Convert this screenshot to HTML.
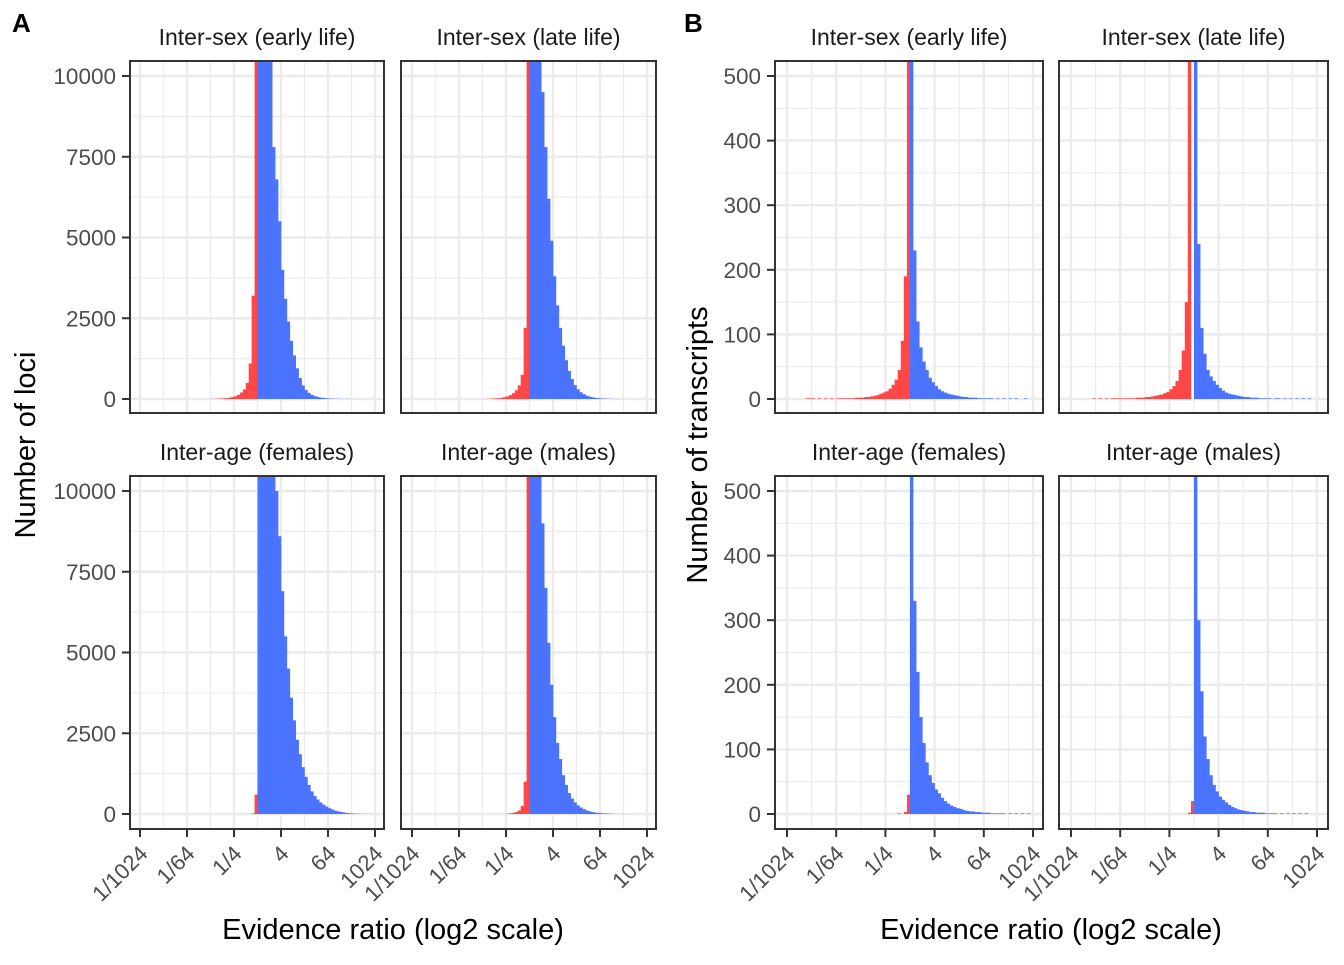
<!DOCTYPE html>
<html><head><meta charset="utf-8"><style>
body{margin:0;background:#fff;}
svg text{font-family:"Liberation Sans",sans-serif;}
</style></head><body>
<svg id="chart" width="1344" height="960" viewBox="0 0 1344 960" xmlns="http://www.w3.org/2000/svg">
<rect width="1344" height="960" fill="#fff"/>
<text x="12" y="32" font-size="26" font-weight="bold" fill="#000">A</text>
<text x="684" y="32" font-size="26" font-weight="bold" fill="#000">B</text>
<text transform="translate(35,445) rotate(-90)" text-anchor="middle" font-size="29" fill="#000">Number of loci</text>
<text transform="translate(707,445) rotate(-90)" text-anchor="middle" font-size="29" fill="#000">Number of transcripts</text>
<text x="393" y="939" text-anchor="middle" font-size="29" fill="#000">Evidence ratio (log2 scale)</text>
<text x="1051" y="939" text-anchor="middle" font-size="29" fill="#000">Evidence ratio (log2 scale)</text>
</svg>
<script>
// Histogram bins: width 0.25 (log2 units); arrays give counts starting at the given log2 start
const binWidth = 0.25;
const xTickLog2 = [-10, -6, -2, 2, 6, 10];
const xTickLabels = ["1/1024", "1/64", "1/4", "4", "64", "1024"];
const yTicksLoci = [0, 2500, 5000, 7500, 10000];
const yTicksTx = [0, 100, 200, 300, 400, 500];

const titles = ["Inter-sex (early life)", "Inter-sex (late life)", "Inter-age (females)", "Inter-age (males)"];

// Panel A (loci)
const a1RedStart = -4;
const a1Red = [4,6,10,14,20,28,40,60,85,130,200,300,500,1100,3200,12000];
const a1Blue = [12000,12000,12000,12000,12000,7800,6800,5500,4000,3100,2400,1800,1350,950,650,420,280,190,130,90,65,45,32,22,15,10,7,5,3,2,2,1,1,1];
const a2RedStart = -4;
const a2Red = [3,5,8,12,18,26,38,55,80,120,180,270,420,750,2200,12000];
const a2Blue = [12000,12000,12000,12000,9500,7800,6200,4900,3800,2900,2200,1650,1200,870,620,430,300,210,150,105,75,52,36,25,17,12,8,5,3,2,1];
const a3RedStart = -0.5;
const a3Red = [20,600];
const a3Blue = [12000,12000,12000,12000,12000,12000,10000,8600,6900,5500,4500,3600,2900,2300,1850,1450,1150,900,700,560,450,360,290,230,180,140,105,80,60,45,32,22,15,10,7,5,3,2,2,1];
const a4RedStart = -2;
const a4Red = [10,20,35,60,110,250,1000,12000];
const a4Blue = [12000,12000,12000,12000,9000,7000,5300,4000,3000,2200,1700,1200,900,650,480,360,270,200,150,110,80,60,45,33,24,17,12,8,5,3,2,1];

// Panel B (transcripts)
const b1RedStart = -8.5;
const b1Red = [1,1,1,0,1,0,1,0,1,0,1,1,1,1,1,1,2,2,2,3,3,4,5,6,8,10,12,16,22,30,45,90,190,600];
const b1Blue = [600,230,120,80,58,45,33,26,20,15,12,10,8,7,6,5,4,3,3,2,2,2,1,1,1,1,1,0,1,0,1,0,1,0,1,0,0,1];
const b2RedStart = -8.25;
const b2Red = [1,0,1,0,1,0,1,1,1,1,1,1,1,1,2,2,2,3,3,4,5,6,7,9,11,15,20,28,45,75,150,600];
const b2Blue = [600,240,110,70,45,35,28,22,17,13,10,8,7,6,5,4,3,3,2,2,2,1,1,1,1,0,1,1,0,1,0,1,0,1,0,1,0,1];
const b3RedStart = -1;
const b3Red = [1,0,3,30];
const b3Blue = [600,330,220,150,110,80,60,48,38,32,25,20,16,13,11,9,8,6,5,4,4,3,3,2,2,2,1,1,1,1,1,0,1,0,1,0,1,0,1];
const b4RedStart = -0.5;
const b4Red = [2,20];
const b4Blue = [600,300,190,120,85,60,45,35,27,22,18,14,11,9,7,6,5,4,3,3,2,2,2,1,1,1,1,0,1,0,1,0,1,0,1,0,1];

const NS = "http://www.w3.org/2000/svg";
const svg = document.getElementById("chart");
function el(tag, attrs, parent) {
  const e = document.createElementNS(NS, tag);
  for (const k in attrs) e.setAttribute(k, attrs[k]);
  (parent || svg).appendChild(e);
  return e;
}
let clipId = 0;
function panel(cfg) {
  const {left, top, w, h, zeroX, kx, zeroY, ky, yTicks, yGrid, yMinor, title, redStart, red, blue, showX, name} = cfg;
  const sx = v => zeroX + v * kx;
  const sy = v => zeroY - v * ky;
  const g = el("g", {});
  
  
  const xMinor = [-8, -4, 0, 4, 8];
  xMinor.forEach(v => el("line", {x1: sx(v), x2: sx(v), y1: top, y2: top + h, stroke: "#ebebeb", "stroke-width": 1.2}, g));
  yMinor.forEach(v => el("line", {x1: left, x2: left + w, y1: sy(v), y2: sy(v), stroke: "#ebebeb", "stroke-width": 1.2}, g));
  xTickLog2.forEach(v => el("line", {x1: sx(v), x2: sx(v), y1: top, y2: top + h, stroke: "#ebebeb", "stroke-width": 2.4}, g));
  yGrid.forEach(v => el("line", {x1: left, x2: left + w, y1: sy(v), y2: sy(v), stroke: "#ebebeb", "stroke-width": 2.4}, g));
  const id = "clip" + (clipId++);
  const cp = el("clipPath", {id: id}, g);
  el("rect", {x: left, y: top, width: w, height: h}, cp);
  const bars = el("g", {"clip-path": "url(#" + id + ")"}, g);
  red.forEach((c, i) => {
    if (c <= 0) return;
    const x0 = sx(redStart + i * binWidth), x1 = sx(redStart + (i + 1) * binWidth);
    const r = el("rect", {x: x0, y: sy(c), width: x1 - x0 + 0.3, height: sy(0) - sy(c), fill: "#ff4747"}, bars);
    
    
  });
  blue.forEach((c, i) => {
    if (c <= 0) return;
    const x0 = sx(i * binWidth), x1 = sx((i + 1) * binWidth);
    const r = el("rect", {x: x0, y: sy(c), width: x1 - x0 + 0.3, height: sy(0) - sy(c), fill: "#4a73ff"}, bars);
    
    
  });
  el("rect", {x: left, y: top, width: w, height: h, fill: "none", stroke: "#333", "stroke-width": 2}, g);
  const t = el("text", {x: left + w / 2, y: top - 16, "text-anchor": "middle", "font-size": 23, fill: "#1a1a1a"}, g);
  t.textContent = title;
  
  
  yTicks.forEach(v => {
    el("line", {x1: left - 8, x2: left, y1: sy(v), y2: sy(v), stroke: "#333", "stroke-width": 2}, g);
    const lt = el("text", {x: left - 14, y: sy(v) + 8, "text-anchor": "end", "font-size": 22.5, fill: "#4d4d4d"}, g);
    lt.textContent = v;
    
    
  });
  if (showX) {
    xTickLog2.forEach((v, i) => {
      el("line", {x1: sx(v), x2: sx(v), y1: top + h, y2: top + h + 8, stroke: "#333", "stroke-width": 2}, g);
      const lt = el("text", {transform: "translate(" + (sx(v) + 9) + "," + (top + h + 26) + ") rotate(-45)", "text-anchor": "end", "font-size": 22, fill: "#4d4d4d"}, g);
      lt.textContent = xTickLabels[i];
      
      
    });
  }
}
const lociMinor = [1250, 3750, 6250, 8750];
const txMinor = [50, 150, 250, 350, 450];
const aK = 323 / 10000, bK = 323 / 500;
const A = [
  {left: 130, w: 254, zeroX: 257.5, kx: 11.75},
  {left: 401, w: 255, zeroX: 529.5, kx: 11.75}
];
const B = [
  {left: 775, w: 268, zeroX: 910, kx: 12.3},
  {left: 1059, w: 269, zeroX: 1194, kx: 12.3}
];
const rows = [{top: 61, h: 352, zeroY: 399}, {top: 476, h: 353, zeroY: 814}];
const aData = [[a1RedStart, a1Red, a1Blue], [a2RedStart, a2Red, a2Blue], [a3RedStart, a3Red, a3Blue], [a4RedStart, a4Red, a4Blue]];
const bData = [[b1RedStart, b1Red, b1Blue], [b2RedStart, b2Red, b2Blue], [b3RedStart, b3Red, b3Blue], [b4RedStart, b4Red, b4Blue]];
for (let i = 0; i < 4; i++) {
  const r = rows[Math.floor(i / 2)], c = i % 2;
  panel(Object.assign({}, A[c], r, {ky: aK, yTicks: c === 0 ? yTicksLoci : [], yGrid: yTicksLoci, yMinor: lociMinor, title: titles[i],
    redStart: aData[i][0], red: aData[i][1], blue: aData[i][2], showX: i >= 2, name: "panel-a-facet-" + (i + 1)}));
  panel(Object.assign({}, B[c], r, {ky: bK, yTicks: c === 0 ? yTicksTx : [], yGrid: yTicksTx, yMinor: txMinor, title: titles[i],
    redStart: bData[i][0], red: bData[i][1], blue: bData[i][2], showX: i >= 2, name: "panel-b-facet-" + (i + 1)}));
}
</script>
</body></html>
